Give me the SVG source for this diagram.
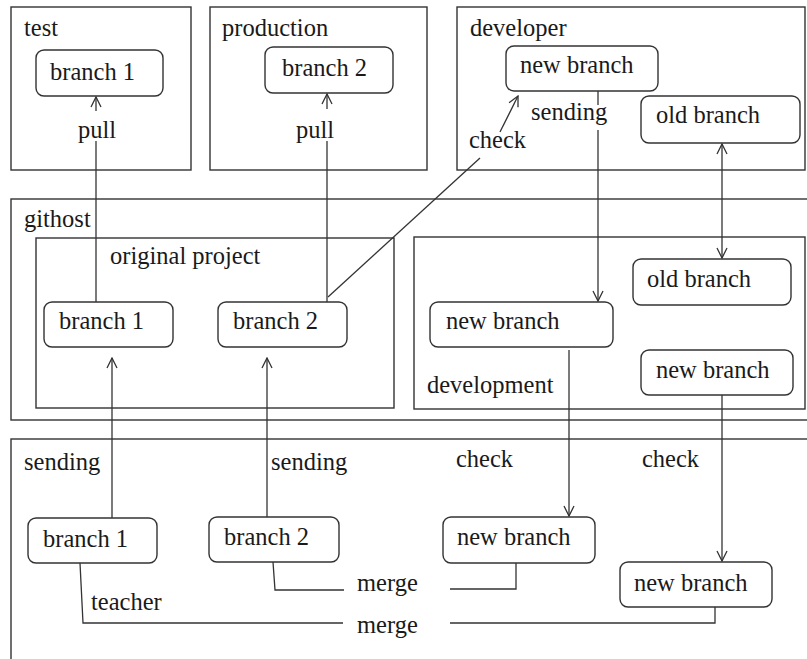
<svg xmlns="http://www.w3.org/2000/svg" width="807" height="659" viewBox="0 0 807 659">
<defs>
<style>
.c{fill:none;stroke:#333;stroke-width:1.4}
.n{fill:#fff;stroke:#333;stroke-width:1.4}
.l{fill:none;stroke:#333;stroke-width:1.3}
.t{font-family:'Liberation Serif','DejaVu Serif',serif;font-size:24.5px;fill:#1a1a1a}
</style>
<marker id="a" viewBox="0 0 12 12" refX="11" refY="6" markerWidth="12" markerHeight="12" markerUnits="userSpaceOnUse" orient="auto-start-reverse">
<path d="M1,1 L11,6 L1,11" fill="none" stroke="#333" stroke-width="1.3"/>
</marker>
</defs>
<rect width="807" height="659" fill="#fff"/>
<g class="t" font-family="Liberation Serif, DejaVu Serif, serif">
<g id="test"><rect class="c" x="11" y="7" width="180" height="163"/><text x="24" y="36">test</text></g>
<g id="production"><rect class="c" x="210" y="7" width="217" height="163"/><text x="222" y="36">production</text></g>
<g id="developer"><rect class="c" x="457" y="7" width="348" height="163"/><text x="470" y="36">developer</text></g>
<g id="githost"><rect class="c" x="11" y="199" width="810" height="221"/><text x="24" y="227">githost</text></g>
<g id="original-project"><rect class="c" x="36" y="238" width="358" height="170"/><text x="110" y="264">original project</text></g>
<g id="development"><rect class="c" x="414" y="237" width="391" height="172"/><text x="427" y="393">development</text></g>
<g id="local"><rect class="c" x="11" y="439" width="810" height="240"/></g>

<g id="test-branch1"><rect class="n" x="36" y="50" width="127" height="46" rx="8"/><text x="50" y="80">branch 1</text></g>
<g id="prod-branch2"><rect class="n" x="265" y="47" width="128" height="46" rx="8"/><text x="282" y="76">branch 2</text></g>
<g id="dev-new"><rect class="n" x="506" y="46" width="152" height="45" rx="8"/><text x="520" y="73">new branch</text></g>
<g id="dev-old"><rect class="n" x="641" y="96" width="159" height="47" rx="8"/><text x="656" y="123">old branch</text></g>
<g id="gh-branch1"><rect class="n" x="44" y="302" width="129" height="45" rx="8"/><text x="59" y="329">branch 1</text></g>
<g id="gh-branch2"><rect class="n" x="218" y="302" width="129" height="45" rx="8"/><text x="233" y="329">branch 2</text></g>
<g id="gh-old"><rect class="n" x="633" y="259" width="158" height="46" rx="8"/><text x="647" y="287">old branch</text></g>
<g id="gh-new1"><rect class="n" x="430" y="302" width="183" height="45" rx="8"/><text x="446" y="329">new branch</text></g>
<g id="gh-new2"><rect class="n" x="641" y="350" width="152" height="45" rx="8"/><text x="656" y="378">new branch</text></g>
<g id="lo-branch1"><rect class="n" x="28" y="518" width="129" height="45" rx="8"/><text x="43" y="547">branch 1</text></g>
<g id="lo-branch2"><rect class="n" x="209" y="517" width="130" height="45" rx="8"/><text x="224" y="545">branch 2</text></g>
<g id="lo-new1"><rect class="n" x="443" y="517" width="152" height="46" rx="8"/><text x="457" y="545">new branch</text></g>
<g id="lo-new2"><rect class="n" x="620" y="562" width="152" height="45" rx="8"/><text x="634" y="591">new branch</text></g>

<g id="connectors">
<line class="l" x1="96" y1="302" x2="96" y2="141"/>
<line class="l" x1="96" y1="111" x2="96" y2="97" marker-end="url(#a)"/>
<line class="l" x1="327" y1="302" x2="327" y2="141"/>
<line class="l" x1="327" y1="109" x2="327" y2="94" marker-end="url(#a)"/>
<line class="l" x1="598" y1="91" x2="598" y2="105"/>
<line class="l" x1="598" y1="130" x2="598" y2="301" marker-end="url(#a)"/>
<line class="l" x1="722" y1="144" x2="722" y2="258" marker-start="url(#a)" marker-end="url(#a)"/>
<line class="l" x1="328" y1="297" x2="480" y2="158"/>
<line class="l" x1="500" y1="132" x2="518" y2="96" marker-end="url(#a)"/>
<line class="l" x1="112" y1="518" x2="112" y2="358" marker-end="url(#a)"/>
<line class="l" x1="267" y1="517" x2="267" y2="358" marker-end="url(#a)"/>
<line class="l" x1="569" y1="350" x2="569" y2="516" marker-end="url(#a)"/>
<line class="l" x1="722" y1="395" x2="722" y2="561" marker-end="url(#a)"/>
<polyline class="l" points="273,562 275,590 344,590"/>
<polyline class="l" points="450,589 516,589 516,563"/>
<polyline class="l" points="80,563 83,623 343,623"/>
<polyline class="l" points="450,623 715,623 715,607"/>
</g>

<g id="labels">
<text x="78" y="138">pull</text>
<text x="296" y="138">pull</text>
<text x="531" y="120">sending</text>
<text x="469" y="148">check</text>
<text x="24" y="470">sending</text>
<text x="271" y="470">sending</text>
<text x="456" y="467">check</text>
<text x="642" y="467">check</text>
<text x="91" y="610">teacher</text>
<text x="357" y="591">merge</text>
<text x="357" y="633">merge</text>
</g>
</g>
</svg>
